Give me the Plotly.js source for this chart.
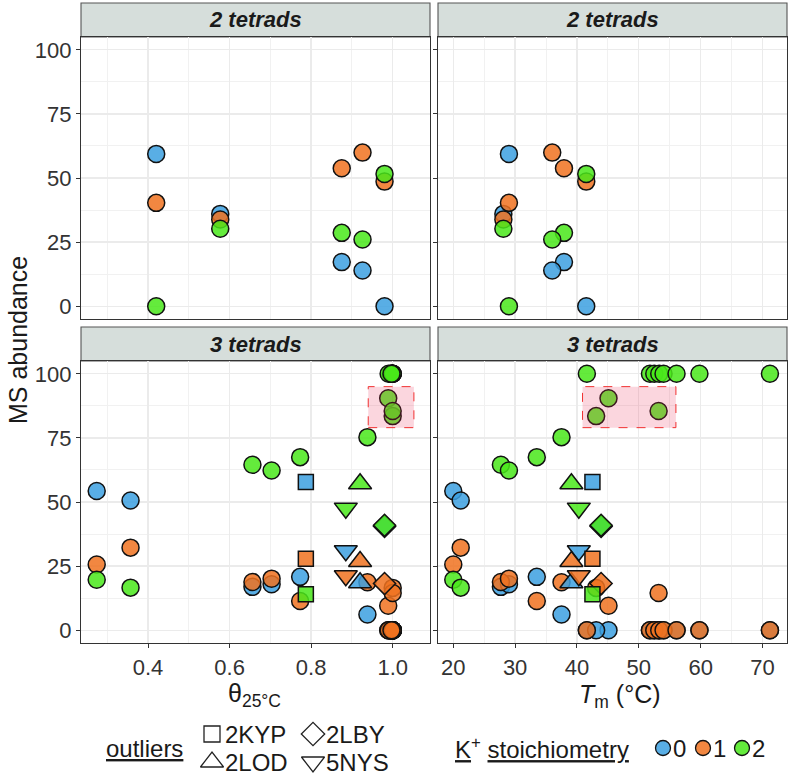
<!DOCTYPE html>
<html><head><meta charset="utf-8">
<script src="https://cdn.plot.ly/plotly-3.0.1.min.js"></script>
<style>body{margin:0;padding:0;background:#fff}</style>
</head><body><div id="chart" style="width:791px;height:779px"></div>
<script>
// ---------- DATA ----------
// 2 tetrads
const theta2 = [0.42, 0.577, 0.875, 0.926, 0.98];
const tm2    = [29.0, 28.1, 37.9, 36.0, 41.5];
const k0_2   = [59.4, 36.0, 17.2, 13.9, 0];
const k1_2   = [40.3, 33.8, 53.8, 59.9, 48.6];
const k2_2   = [0, 30.2, 28.6, 26.0, 51.6];

// 3 tetrads
const theta3 = [0.274, 0.357, 0.656, 0.703, 0.773, 0.938, 0.995, 0.989, 1.0, 1.0, 0.99, 1.0, 0.999, 1.0, 1.0, 1.0, 0.997];
const tm3    = [20.0, 21.2, 27.7, 29.0, 33.5, 37.5, 41.6, 45.1, 43.1, 53.2, 51.8, 52.5, 53.3, 54.0, 56.1, 59.8, 71.2];
const k0_3   = [54.3, 50.6, 16.9, 17.9, 20.8, 6.1, 0, 0, 0, 0, 0, 0, 0, 0, 0, 0, 0];
const k1_3   = [25.6, 32.2, 18.8, 20.1, 11.4, 18.7, 0, 9.5, 16.5, 14.5, 0, 0, 0, 0, 0, 0, 0];
const k2_3   = [19.7, 16.6, 64.5, 62.3, 67.5, 75.3, 100, 90.5, 83.5, 85.5, 100, 100, 100, 100, 100, 100, 100];

// outliers (3 tetrads)
const outlierNames = ['2KYP', '2LBY', '2LOD', '5NYS'];
const outTheta = [0.787, 0.98, 0.92, 0.885];
const outTm    = [42.5, 43.9, 39.1, 40.3];
const outK0    = [57.8, 40.5, 18.5, 31.0];
const outK1    = [27.9, 18.2, 26.8, 21.2];
const outK2    = [14.0, 40.9, 57.1, 47.6];

// highlighted box (3 tetrads)
const boxTheta = [0.94, 1.052];
const boxTm    = [40.9, 56.0];
const boxY     = [79, 95];

const facetLabels = ['2 tetrads', '3 tetrads'];
const kLevels = ['0', '1', '2'];

// ---------- STYLE ----------
const W = 791, H = 779;
const px = v => v / W, py = v => 1 - v / H;
const FONT = 'Liberation Sans, Arial, sans-serif';
const fills = {
  '0': 'rgba(60,160,225,0.85)',
  '1': 'rgba(240,114,32,0.85)',
  '2': 'rgba(73,232,26,0.85)'
};
const symbolOf = {'2KYP': 'square', '2LBY': 'diamond', '2LOD': 'triangle-up', '5NYS': 'triangle-down'};
const sizeOf = {'2KYP': 15, '2LBY': 17, '2LOD': 20, '5NYS': 20};
const lineStyle = {color: '#111', width: 1.5};

const traces = [];
function circles(x, y, k, xa, ya) {
  traces.push({type: 'scatter', mode: 'markers', x: x, y: y, xaxis: xa, yaxis: ya,
    showlegend: false, hoverinfo: 'skip', cliponaxis: true,
    marker: {symbol: 'circle', size: 17, opacity: 1, color: fills[k], line: lineStyle}});
}
function outliers(x, y, k, xa, ya) {
  traces.push({type: 'scatter', mode: 'markers', x: x, y: y, xaxis: xa, yaxis: ya,
    showlegend: false, hoverinfo: 'skip',
    marker: {symbol: outlierNames.map(n => symbolOf[n]), size: outlierNames.map(n => sizeOf[n]),
      opacity: 1, color: fills[k], line: lineStyle}});
}
const k2arr = [k0_2, k1_2, k2_2];
const k3arr = [k0_3, k1_3, k2_3];
const outArr = [outK0, outK1, outK2];
kLevels.forEach((k, i) => {
  circles(theta2, k2arr[i], k, 'x', 'y');
  circles(tm2, k2arr[i], k, 'x2', 'y2');
  circles(theta3, k3arr[i], k, 'x3', 'y3');
  circles(tm3, k3arr[i], k, 'x4', 'y4');
});
kLevels.forEach((k, i) => {
  outliers(outTheta, outArr[i], k, 'x3', 'y3');
  outliers(outTm, outArr[i], k, 'x4', 'y4');
});

// legend keys (layout helper axis in pixel space)
const legKeys = {
  sym: {x: [212, 313, 212, 313], y: [734, 734, 762, 762]},
  circ: {x: [663, 703, 742], y: [748, 748, 748]}
};
traces.push({type: 'scatter', mode: 'markers', x: legKeys.sym.x, y: legKeys.sym.y, xaxis: 'x5', yaxis: 'y5',
  showlegend: false, hoverinfo: 'skip',
  marker: {symbol: outlierNames.map(n => symbolOf[n] + '-open'), size: [16, 18, 20, 20], opacity: 1,
    color: '#222', line: {color: '#222', width: 1.3}}});
traces.push({type: 'scatter', mode: 'markers', x: legKeys.circ.x, y: legKeys.circ.y, xaxis: 'x5', yaxis: 'y5',
  showlegend: false, hoverinfo: 'skip',
  marker: {symbol: 'circle', size: 15, opacity: 1, color: kLevels.map(k => fills[k]), line: {color: '#111', width: 1.3}}});

// ---------- AXES ----------
const gridC = '#EBEBEB';
const tickFont = {family: FONT, size: 22, color: '#333'};
function xAxis(domain, range, tick0, dtick, mtick0, mdtick, labels, anchor) {
  const a = {domain, range, anchor, tickmode: 'linear', tick0, dtick,
    showgrid: true, gridcolor: gridC, gridwidth: 1.3,
    minor: {tick0: mtick0, dtick: mdtick, showgrid: true, gridcolor: '#F1F1F1', gridwidth: 1, ticks: ''},
    showline: true, linecolor: '#333', linewidth: 1.1, mirror: true,
    ticks: labels ? 'outside' : '', ticklen: 4, tickcolor: '#333', tickwidth: 1,
    showticklabels: labels, tickfont: tickFont, zeroline: false, fixedrange: true};
  if (labels && tick0 < 1) a.tickformat = '.1f';
  return a;
}
function yAxis(domain, labels, anchor) {
  return {domain, range: [-5, 105], anchor, tickmode: 'linear', tick0: 0, dtick: 25,
    showgrid: true, gridcolor: gridC, gridwidth: 1.3,
    minor: {tick0: 12.5, dtick: 25, showgrid: true, gridcolor: '#F1F1F1', gridwidth: 1, ticks: ''},
    showline: true, linecolor: '#333', linewidth: 1.1, mirror: true,
    ticks: 'outside', ticklen: 4, tickcolor: '#333', tickwidth: 1,
    showticklabels: labels, tickfont: tickFont, zeroline: false, fixedrange: true};
}
const xL = [px(81), px(430)], xR = [px(438), px(787)];
const yT = [py(319), py(37)], yB = [py(643), py(361)];
const rangeTheta = [0.2355, 1.0915], rangeTm = [17.53, 73.96];

const layout = {
  width: W, height: H, margin: {l: 0, r: 0, t: 0, b: 0},
  paper_bgcolor: '#fff', plot_bgcolor: 'rgba(0,0,0,0)', showlegend: false,
  font: {family: FONT, color: '#1a1a1a'},
  xaxis:  xAxis(xL, rangeTheta, 0.4, 0.2, 0.3, 0.2, false, 'y'),
  yaxis:  yAxis(yT, true, 'x'),
  xaxis2: xAxis(xR, rangeTm, 20, 10, 25, 10, false, 'y2'),
  yaxis2: yAxis(yT, false, 'x2'),
  xaxis3: xAxis(xL, rangeTheta, 0.4, 0.2, 0.3, 0.2, true, 'y3'),
  yaxis3: yAxis(yB, true, 'x3'),
  xaxis4: xAxis(xR, rangeTm, 20, 10, 25, 10, true, 'y4'),
  yaxis4: yAxis(yB, false, 'x4'),
  xaxis5: {domain: [0, 1], range: [0, W], visible: false, fixedrange: true, anchor: 'y5'},
  yaxis5: {domain: [0, 1], range: [H, 0], visible: false, fixedrange: true, anchor: 'x5'},
  shapes: [], annotations: []
};

// strips
const strips = [
  {x: xL, y: [py(37), py(3)], t: facetLabels[0]},
  {x: xR, y: [py(37), py(3)], t: facetLabels[0]},
  {x: xL, y: [py(361), py(327)], t: facetLabels[1]},
  {x: xR, y: [py(361), py(327)], t: facetLabels[1]}
];
strips.forEach(s => {
  layout.shapes.push({type: 'rect', xref: 'paper', yref: 'paper', x0: s.x[0], x1: s.x[1], y0: s.y[0], y1: s.y[1],
    fillcolor: '#D6DEDB', line: {color: '#555', width: 1.1}, layer: 'below'});
  layout.annotations.push({xref: 'paper', yref: 'paper', x: (s.x[0] + s.x[1]) / 2, y: (s.y[0] + s.y[1]) / 2,
    text: '<b><i>' + s.t + '</i></b>', showarrow: false, xanchor: 'center', yanchor: 'middle',
    font: {family: FONT, size: 22, color: '#1a1a1a'}});
});

// highlighted boxes
[['x3', 'y3', boxTheta], ['x4', 'y4', boxTm]].forEach(([xa, ya, bx]) => {
  layout.shapes.push({type: 'rect', xref: xa, yref: ya, x0: bx[0], x1: bx[1], y0: boxY[0], y1: boxY[1],
    fillcolor: 'rgba(235,50,90,0.2)', line: {color: '#F03030', width: 1, dash: 'dash'}, layer: 'above'});
});

// axis titles
const ann = (x, y, text, size, extra) => layout.annotations.push(Object.assign({xref: 'paper', yref: 'paper',
  x: px(x), y: py(y), text, showarrow: false, font: {family: FONT, size, color: '#1a1a1a'}}, extra || {}));
ann(18, 340, 'MS abundance', 25, {textangle: -90, xanchor: 'center', yanchor: 'middle'});
ann(254, 695, 'θ<sub>25°C</sub>', 25, {xanchor: 'center', yanchor: 'middle'});
ann(620, 696, '<i>T</i><sub>m</sub> (°C)', 25, {xanchor: 'center', yanchor: 'middle'});

// legend text
ann(185, 748, '<u>outliers</u>', 24, {xanchor: 'right', yanchor: 'middle'});
outlierNames.forEach((n, i) => ann(legKeys.sym.x[i] + 11, legKeys.sym.y[i], n, 24, {xanchor: 'left', yanchor: 'middle'}));
ann(453, 748, '<u>K</u><sup>+</sup> <u>stoichiometry</u>', 24, {xanchor: 'left', yanchor: 'middle'});
kLevels.forEach((k, i) => ann(legKeys.circ.x[i] + 8, legKeys.circ.y[i], k, 24, {xanchor: 'left', yanchor: 'middle'}));

Plotly.newPlot('chart', traces, layout, {displayModeBar: false, staticPlot: true});
</script>
</body></html>
